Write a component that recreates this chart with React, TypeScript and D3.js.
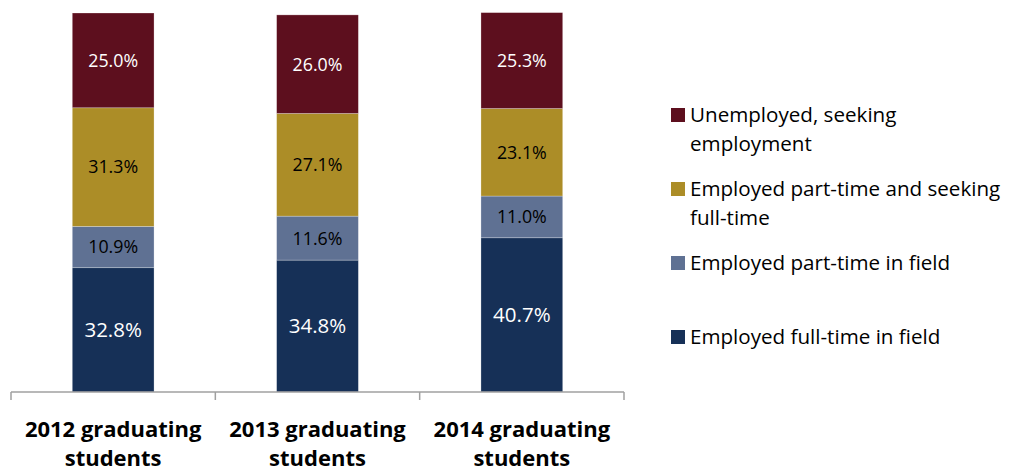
import React from "react";
import * as d3 from "d3";

const categories = ["2012 graduating students", "2013 graduating students", "2014 graduating students"];
const categoryLines = [
  ["2012 graduating", "students"],
  ["2013 graduating", "students"],
  ["2014 graduating", "students"],
];
const seriesNames = [
  "Employed full-time in field",
  "Employed part-time in field",
  "Employed part-time and seeking full-time",
  "Unemployed, seeking employment",
];
const fullTimeInField = [32.8, 34.8, 40.7];
const partTimeInField = [10.9, 11.6, 11.0];
const partTimeSeeking = [31.3, 27.1, 23.1];
const unemployed = [25.0, 26.0, 25.3];
const seriesColors = ["#163057", "#5F7193", "#AC8D27", "#5D0F1E"];
const labelColors = ["#ffffff", "#000000", "#000000", "#ffffff"];
const legendLines = [
  ["Unemployed, seeking", "employment"],
  ["Employed part-time and seeking", "full-time"],
  ["Employed part-time in field"],
  ["Employed full-time in field"],
];
const legendColors = ["#5D0F1E", "#AC8D27", "#5F7193", "#163057"];

const FONT = "'Open Sans', 'Noto Sans', sans-serif";

export default function App() {
  const W = 1009, H = 470;
  const x = d3.scaleBand<string>().domain(categories).range([11, 624]).padding(0);
  const y = d3.scaleLinear().domain([0, 100]).range([392, 13]);
  const barW = x.bandwidth() * 0.4;

  const table = categories.map((c, i) => ({
    cat: c,
    s0: fullTimeInField[i],
    s1: partTimeInField[i],
    s2: partTimeSeeking[i],
    s3: unemployed[i],
  }));
  const stack = d3.stack<any>().keys(["s0", "s1", "s2", "s3"]);
  const stacked = stack(table);

  const ticks = [...categories.map((c) => x(c)!), 624];
  const legendY = [115, 189, 263, 337];

  return (
    <svg width={W} height={H} style={{ position: "absolute", left: 0, top: 0, background: "#fff" }} fontFamily={FONT}>
      {stacked.map((layer, si) => (
        <g key={si}>
          {layer.map((d, i) => {
            const cx = x(categories[i])! + x.bandwidth() / 2;
            const y0 = y(d[1]);
            const y1 = y(d[0]);
            return (
              <g key={i}>
                <rect x={cx - barW / 2} y={y0} width={barW} height={y1 - y0} fill={seriesColors[si]} stroke="#ffffff" strokeOpacity={0.35} strokeWidth={0.75} />
                <text
                  x={cx}
                  y={(y0 + y1) / 2}
                  dy="0.36em"
                  textAnchor="middle"
                  fill={labelColors[si]}
                  fontSize={si === 0 ? 20.5 : 17.8}
                >
                  {(d[1] - d[0]).toFixed(1)}%
                </text>
              </g>
            );
          })}
        </g>
      ))}
      <line x1={11} x2={624} y1={392} y2={392} stroke="#A0A0A0" strokeWidth={1.5} />
      {ticks.map((t, i) => (
        <line key={i} x1={t} x2={t} y1={392} y2={400} stroke="#A0A0A0" strokeWidth={1.5} />
      ))}
      {categories.map((c, i) => (
        <text key={c} textAnchor="middle" fontWeight="bold" fontSize={22} fill="#000">
          {categoryLines[i].map((ln, j) => (
            <tspan key={j} x={x(c)! + x.bandwidth() / 2} y={436.5 + j * 29}>
              {ln}
            </tspan>
          ))}
        </text>
      ))}
      {legendLines.map((lines, i) => (
        <g key={i}>
          <rect x={671} y={legendY[i] - 7} width={14} height={14} fill={legendColors[i]} />
          <text fontSize={20.6} fill="#000">
            {lines.map((ln, j) => (
              <tspan key={j} x={690} y={legendY[i] + 7 + j * 29}>
                {ln}
              </tspan>
            ))}
          </text>
        </g>
      ))}
    </svg>
  );
}
